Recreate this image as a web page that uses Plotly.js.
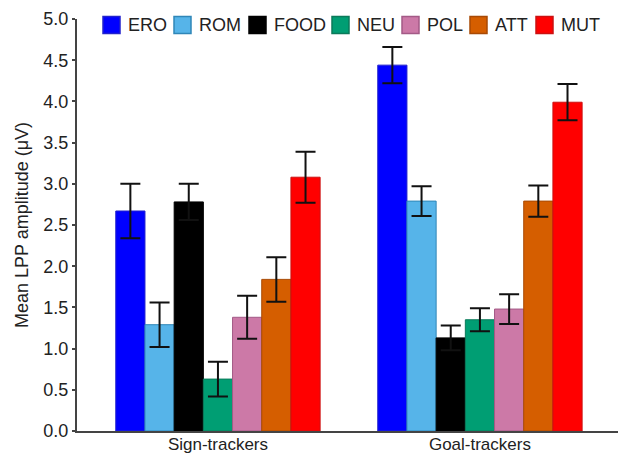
<!DOCTYPE html>
<html>
<head>
<meta charset="utf-8">
<script src="https://cdn.plot.ly/plotly-3.0.1.min.js"></script>
<style>html,body{margin:0;padding:0;background:#fff;}#chart{width:618px;height:457px;}</style>
</head>
<body>
<div id="chart"></div>
<script>
const groups = ["Sign-trackers", "Goal-trackers"];
const seriesNames = ["ERO", "ROM", "FOOD", "NEU", "POL", "ATT", "MUT"];
const ERO = [2.67, 4.44];
const ROM = [1.29, 2.79];
const FOOD = [2.78, 1.13];
const NEU = [0.63, 1.35];
const POL = [1.38, 1.48];
const ATT = [1.84, 2.79];
const MUT = [3.08, 3.99];
const ERO_err = [0.33, 0.22];
const ROM_err = [0.27, 0.18];
const FOOD_err = [0.22, 0.15];
const NEU_err = [0.21, 0.14];
const POL_err = [0.26, 0.18];
const ATT_err = [0.27, 0.19];
const MUT_err = [0.31, 0.22];
const yTicks = [0, 0.5, 1, 1.5, 2, 2.5, 3, 3.5, 4, 4.5, 5];

const values = [ERO, ROM, FOOD, NEU, POL, ATT, MUT];
const errs = [ERO_err, ROM_err, FOOD_err, NEU_err, POL_err, ATT_err, MUT_err];
const fills = ["#0000ff", "#56b4e9", "#000000", "#009e73", "#cc79a7", "#d55e00", "#ff0000"];
const edges = ["#2222cc", "#2f86b8", "#000000", "#0b7a5a", "#a35a86", "#a84a05", "#cc1010"];

// layout geometry (pixels)
const W = 618, H = 457, ML = 77, MR = 0, MT = 19, MB = 26;
const PW = W - ML - MR, PH = H - MT - MB;
const px = x => (x - ML) / PW;
const py = y => (H - MB - y) / PH;
// custom legend placement (left pixel of each swatch)
const legendLeft = [103, 174, 249, 332, 402, 470, 536];
const legendY = 25, sw = 17;

const traces = seriesNames.map((n, i) => ({
  type: "bar",
  name: n,
  x: groups,
  y: values[i],
  marker: {color: fills[i], line: {color: edges[i], width: 1}},
  error_y: {type: "data", array: errs[i], visible: true, color: "#111", thickness: 2, width: 10}
}));

const shapes = seriesNames.map((n, i) => ({
  type: "rect", xref: "paper", yref: "paper", layer: "above",
  x0: px(legendLeft[i]), x1: px(legendLeft[i] + sw),
  y0: py(legendY + sw / 2), y1: py(legendY - sw / 2),
  fillcolor: fills[i], line: {color: edges[i], width: 1.5}
}));
const annotations = seriesNames.map((n, i) => ({
  text: n, xref: "paper", yref: "paper", showarrow: false,
  x: px(legendLeft[i] + sw + 6), y: py(legendY),
  xanchor: "left", yanchor: "middle",
  font: {size: 18, color: "#222"}
}));

const layout = {
  width: W, height: H,
  margin: {l: ML, r: MR, t: MT, b: MB},
  paper_bgcolor: "#fff", plot_bgcolor: "#fff",
  font: {family: "Liberation Sans, Arial, sans-serif", color: "#222", size: 18},
  barmode: "group",
  bargap: 0.22,
  bargroupgap: 0,
  showlegend: false,
  shapes: shapes,
  annotations: annotations,
  xaxis: {
    range: [-0.538, 1.527],
    showline: true, linecolor: "#444", linewidth: 2,
    ticks: "", showgrid: false, zeroline: false,
    ticklabelstandoff: -3,
    tickfont: {size: 17, color: "#222"}
  },
  yaxis: {
    range: [0, 5],
    tickvals: yTicks, tickformat: ".1f",
    showline: true, linecolor: "#444", linewidth: 2,
    ticks: "outside", ticklen: 3, tickwidth: 1.5, tickcolor: "#444",
    showgrid: false, zeroline: false,
    tickfont: {size: 18, color: "#222"},
    title: {text: "Mean LPP amplitude (μV)", font: {size: 18, color: "#222"}, standoff: 10}
  }
};

Plotly.newPlot("chart", traces, layout, {displayModeBar: false});
</script>
</body>
</html>
